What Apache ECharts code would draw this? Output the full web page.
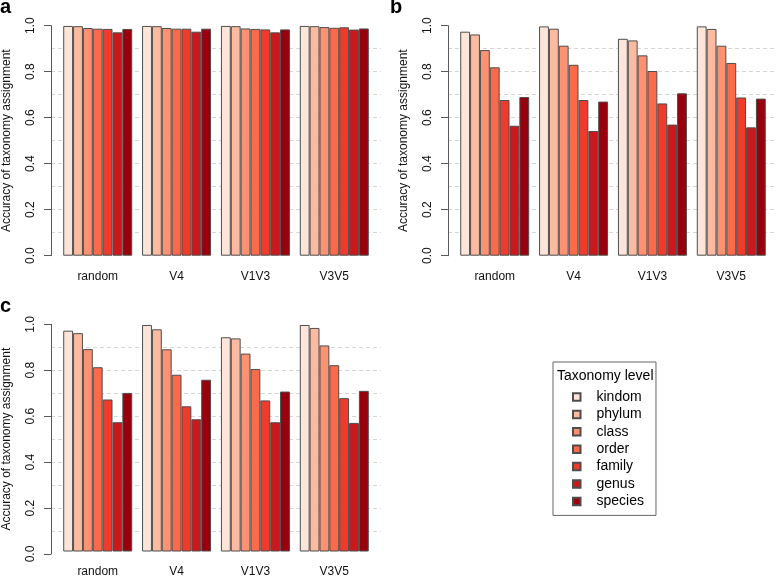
<!DOCTYPE html>
<html>
<head>
<meta charset="utf-8">
<script src="https://cdn.jsdelivr.net/npm/echarts@6/dist/echarts.min.js"></script>
<style>
html,body{margin:0;padding:0;background:#fff;}
#chart{width:777px;height:578px;}
</style>
</head>
<body>
<div id="chart"></div>
<script>
const categories = ['random', 'V4', 'V1V3', 'V3V5'];
const levels = ['kindom', 'phylum', 'class', 'order', 'family', 'genus', 'species'];
const colors = ['#FEE5D9', '#FCBBA1', '#FC9272', '#FB6A4A', '#EF3B2C', '#CB181D', '#99000D'];
const yTicks = [0, 0.2, 0.4, 0.6, 0.8, 1.0];
const panelLetters = ['a', 'b', 'c'];

// rows = taxonomy level, columns = random, V4, V1V3, V3V5
const valuesA = [
  [0.999, 0.999, 0.999, 0.999],
  [0.998, 0.998, 0.998, 0.998],
  [0.990, 0.990, 0.988, 0.994],
  [0.987, 0.987, 0.986, 0.991],
  [0.986, 0.987, 0.984, 0.993],
  [0.971, 0.974, 0.971, 0.983],
  [0.986, 0.987, 0.984, 0.988]
];
const valuesB = [
  [0.974, 0.997, 0.943, 0.997],
  [0.962, 0.987, 0.936, 0.986],
  [0.894, 0.913, 0.871, 0.913],
  [0.819, 0.830, 0.803, 0.838],
  [0.677, 0.677, 0.662, 0.688],
  [0.565, 0.542, 0.570, 0.558],
  [0.690, 0.670, 0.706, 0.683]
];
const valuesC = [
  [0.972, 0.997, 0.943, 0.997],
  [0.961, 0.978, 0.938, 0.984],
  [0.891, 0.890, 0.871, 0.907],
  [0.811, 0.778, 0.803, 0.820],
  [0.669, 0.639, 0.665, 0.675],
  [0.569, 0.582, 0.569, 0.566],
  [0.698, 0.756, 0.704, 0.707]
];

const FONT = "'Liberation Sans', Arial, Helvetica, sans-serif";
const panels = [
  { values: valuesA, axisX: 51, top: 25.7, height: 230 },
  { values: valuesB, axisX: 448, top: 25.7, height: 230 },
  { values: valuesC, axisX: 51, top: 324.3, height: 229.7 }
];
const unit = 330 / 33.48;

const grid = [], xAxis = [], yAxis = [], series = [], title = [];
panels.forEach((p, i) => {
  const bgIdx = grid.length;
  grid.push({ left: p.axisX, top: p.top, width: 330, height: p.height });
  const barIdx = grid.length;
  grid.push({ left: p.axisX + 0.74 * unit, top: p.top, width: 32 * unit, height: p.height });

  xAxis.push({ type: 'value', gridIndex: bgIdx, min: 0, max: 1, show: false });
  yAxis.push({
    type: 'value', gridIndex: bgIdx, position: 'left', min: 0, max: 1, interval: 0.1,
    axisLine: { show: false }, axisTick: { show: false }, axisLabel: { show: false },
    splitLine: { show: true, showMinLine: false, showMaxLine: false,
      lineStyle: { color: '#d6d6d6', type: [4, 3], width: 1 } }
  });
  yAxis.push({
    type: 'value', gridIndex: bgIdx, position: 'left', min: yTicks[0], max: yTicks[yTicks.length - 1], interval: 0.2,
    axisLine: { show: true, lineStyle: { color: '#595959', width: 1 } },
    axisTick: { show: true, length: 7, lineStyle: { color: '#595959' } },
    axisLabel: { rotate: 90, margin: 14, fontSize: 12, color: '#111', fontFamily: FONT,
      formatter: v => v.toFixed(1) },
    splitLine: { show: false },
    name: 'Accuracy of taxonomy assignment', nameLocation: 'middle', nameRotate: 90, nameGap: 38,
    nameTextStyle: { fontSize: 12, color: '#111', fontFamily: FONT }
  });
  const xBarIdx = xAxis.length;
  xAxis.push({
    type: 'category', gridIndex: barIdx, data: categories,
    axisLine: { show: false }, axisTick: { show: false },
    axisLabel: { margin: 14.5, fontSize: 12, color: '#111', fontFamily: FONT },
    splitLine: { show: false }
  });
  const yBarIdx = yAxis.length;
  yAxis.push({ type: 'value', gridIndex: barIdx, position: 'left', min: 0, max: 1, show: false, splitLine: { show: false } });

  levels.forEach((lv, k) => {
    series.push({
      type: 'bar', name: lv, xAxisIndex: xBarIdx, yAxisIndex: yBarIdx,
      data: p.values[k], barWidth: unit, barGap: '0%', barCategoryGap: '12.5%',
      itemStyle: { color: colors[k], borderColor: '#4d4d4d', borderWidth: 1 },
      emphasis: { disabled: true }, animation: false
    });
  });
});

title.push({ text: panelLetters[0], left: 0, top: -3, padding: 0,
  textStyle: { fontSize: 20, fontWeight: 'bold', color: '#000', fontFamily: FONT } });
title.push({ text: panelLetters[1], left: 390, top: -3, padding: 0,
  textStyle: { fontSize: 20, fontWeight: 'bold', color: '#000', fontFamily: FONT } });
title.push({ text: panelLetters[2], left: 0, top: 296, padding: 0,
  textStyle: { fontSize: 20, fontWeight: 'bold', color: '#000', fontFamily: FONT } });
title.push({ text: 'Taxonomy level', left: 557, top: 369, padding: 0,
  textStyle: { fontSize: 14, fontWeight: 'normal', color: '#000', fontFamily: FONT } });

const chart = echarts.init(document.getElementById('chart'), null, { renderer: 'canvas' });
chart.setOption({
  animation: false,
  backgroundColor: '#fff',
  title: title,
  grid: grid,
  xAxis: xAxis,
  yAxis: yAxis,
  series: series,
  legend: {
    data: levels, orient: 'vertical', left: 553, top: 362,
    padding: [28, 12, 7, 19], itemGap: 3.4, itemWidth: 7.5, itemHeight: 7.5, icon: 'rect',
    borderColor: '#666', borderWidth: 1, selectedMode: false,
    textStyle: { fontSize: 14, color: '#000', fontFamily: FONT, lineHeight: 14, padding: [0, 0, 0, 11] }
  }
});
</script>
</body>
</html>
